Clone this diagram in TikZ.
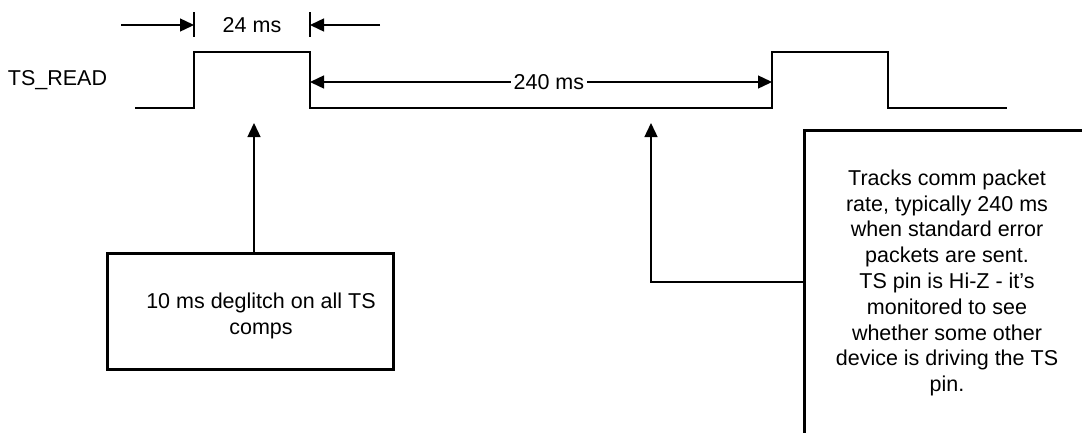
\documentclass[tikz,border=0pt]{standalone}
\usepackage{fontspec}
\setmainfont{Liberation Sans}
\usetikzlibrary{arrows.meta,calc}
\begin{document}
\begin{tikzpicture}[x=1pt,y=-1pt,
  sig/.style={line width=1.5pt},
  thin/.style={line width=1.4pt},
  arr/.style={thin,-{Triangle[length=14pt,width=13pt]}},
  darr/.style={thin,{Triangle[length=14pt,width=13pt]}-{Triangle[length=14pt,width=13pt]}},
  box/.style={draw,line width=3pt,rectangle,inner sep=0pt},
  txt/.style={font=\fontsize{21.5}{25.8}\selectfont,align=center,inner sep=0pt}]
\useasboundingbox (0,0) rectangle (1082,432);
\clip (0,0) rectangle (1082,432);
% waveform
\coordinate (s0) at (135,108);
\coordinate (r1) at (194,108);
\coordinate (f1) at (310,108);
\coordinate (r2) at (772,108);
\coordinate (f2) at (888,108);
\coordinate (s1) at (1007,108);
\draw[sig] (s0) -- (r1) -- ++(0,-56) -| (f1) -- (r2) -- ++(0,-56) -| (f2) -- (s1);
\node[txt] (lbl) at (57.5,80) {TS\_READ};
% 24 ms dimension
\coordinate (ta) at (194,25);
\coordinate (tb) at (310,25);
\draw[thin] ($(ta)+(0,-13)$) -- ($(ta)+(0,12)$);
\draw[thin] ($(tb)+(0,-13)$) -- ($(tb)+(0,12)$);
\coordinate (la) at (121,25);
\coordinate (lb) at (380,25);
\draw[arr] (la) -- (ta);
\draw[arr] (lb) -- (tb);
\node[txt] (d24) at (252,25) {24 ms};
% 240 ms dimension
\coordinate (ma) at (310,82);
\coordinate (mb) at (772,82);
\draw[darr] (ma) -- node[pos=0.517,txt,fill=white,inner xsep=3pt,inner ysep=2pt] (d240) {240 ms} (mb);
% left box
\node[box,minimum width=286pt,minimum height=116pt] (lbox) at (250,311) {};
\node[txt] (ltext) at (261,316) {10 ms deglitch on all TS\\comps};
\coordinate (t1) at (254,123);
\draw[arr] (lbox.north -| t1) -- (t1);
% right box
\node[box,minimum width=320pt,minimum height=340pt,anchor=north west] (rbox) at (803,129) {};
\node[txt] (rtext) at (947,283) {Tracks comm packet\\rate, typically 240 ms\\when standard error\\packets are sent.\\TS pin is Hi-Z - it’s\\monitored to see\\whether some other\\device is driving the TS\\pin.};
\coordinate (t2) at (651,123);
\coordinate (c2) at (651,282);
\draw[arr] (rbox.west |- c2) -- (c2) -- (t2);
\end{tikzpicture}
\end{document}
